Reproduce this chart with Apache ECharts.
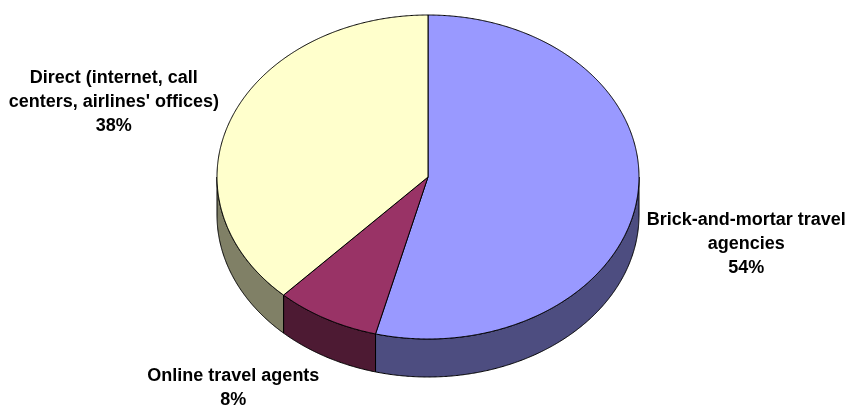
<!DOCTYPE html>
<html>
<head>
<meta charset="utf-8">
<script src="https://cdn.jsdelivr.net/npm/echarts@6/dist/echarts.min.js"></script>
<style>
  html, body { margin: 0; padding: 0; background: #ffffff; }
  #chart { width: 849px; height: 406px; }
</style>
</head>
<body>
<div id="chart"></div>
<script>
// Distribution channels: share of ticket sales (%)
const categories = [
  'Brick-and-mortar travel\nagencies',
  'Online travel agents',
  "Direct (internet, call\ncenters, airlines' offices)"
];
const shares = [54, 8, 38];

// Face colours (top) and shaded wall colours (side)
const topColors = ['#9999FF', '#993366', '#FFFFCC'];
const sideColors = ['#4D4D80', '#4D1A33', '#808066'];

// Tilted-disc geometry (pixels)
const CX = 428, CY = 177, RX = 211, RY = 162, DEPTH = 38;
// Label centre offsets from the rim point at each slice's mid-angle
const labelShift = [[109, 28], [-93, 50], [-118, -15]];

const total = shares.reduce((a, b) => a + b, 0);
const starts = [];
{
  let acc = 0;
  shares.forEach(v => { starts.push(acc / total * 360); acc += v; });
}

// angle measured clockwise from 12 o'clock
function pt(deg, dy) {
  const r = deg * Math.PI / 180;
  return [CX + RX * Math.sin(r), CY - RY * Math.cos(r) + dy];
}
function arc(a, b, dy) {
  const n = Math.max(2, Math.ceil(Math.abs(b - a) * 3));
  const out = [];
  for (let i = 0; i <= n; i++) out.push(pt(a + (b - a) * i / n, dy));
  return out;
}

function renderItem(params, api) {
  const i = params.dataIndex;
  const v = api.value(0);
  const a0 = starts[i];
  const a1 = a0 + v / total * 360;
  const children = [];

  // visible front wall (lower half of the disc)
  const s = Math.max(a0, 90), e = Math.min(a1, 270);
  if (s < e) {
    children.push({
      type: 'polygon', z2: 0,
      shape: { points: arc(s, e, 0).concat(arc(e, s, DEPTH)) },
      style: { fill: sideColors[i], stroke: '#000000', lineWidth: 1 }
    });
  }

  // top face
  children.push({
    type: 'polygon', z2: 10,
    shape: { points: [[CX, CY]].concat(arc(a0, a1, 0)) },
    style: { fill: topColors[i], stroke: '#000000', lineWidth: 1 }
  });

  // data label
  const m = (a0 + a1) / 2;
  const front = m > 90 && m < 270;
  const p = pt(m, front ? DEPTH / 2 : 0);
  children.push({
    type: 'text', z2: 20,
    x: p[0] + labelShift[i][0],
    y: p[1] + labelShift[i][1],
    style: {
      text: categories[i] + '\n' + Math.round(v / total * 100) + '%',
      font: 'bold 18px "Liberation Sans", Arial, sans-serif',
      fill: '#000000',
      align: 'center',
      verticalAlign: 'middle',
      lineHeight: 24
    }
  });

  return { type: 'group', children };
}

const chart = echarts.init(document.getElementById('chart'), null, { renderer: 'canvas' });
chart.setOption({
  backgroundColor: '#ffffff',
  animation: false,
  series: [{
    type: 'custom',
    coordinateSystem: 'none',
    renderItem: renderItem,
    data: shares.map((v, i) => ({ value: [v], name: categories[i] }))
  }]
});
</script>
</body>
</html>
